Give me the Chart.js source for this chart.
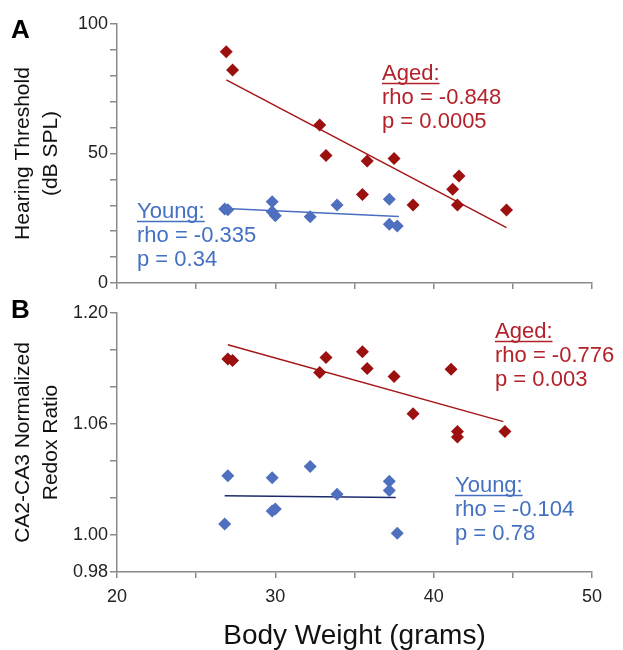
<!DOCTYPE html>
<html>
<head>
<meta charset="utf-8">
<script src="https://cdn.jsdelivr.net/npm/chart.js@4.4.1/dist/chart.umd.min.js"></script>
<style>
  html, body { margin: 0; padding: 0; background: #fff; }
  #wrap { position: relative; width: 623px; height: 650px; }
  #chartA { position: absolute; left: 0; top: 0; }
  #chartB { position: absolute; left: 0; top: 300px; }
</style>
</head>
<body>
<div id="wrap">
  <canvas id="chartA" width="623" height="300"></canvas>
  <canvas id="chartB" width="623" height="350"></canvas>
</div>
<script>
// ---- data ----
// Panel A: hearing threshold (dB SPL) vs body weight (g)
const agedWeightA = [26.9, 27.3, 32.8, 33.2, 35.8, 37.5, 35.5, 38.7, 41.2, 41.6, 41.5, 44.6];
const agedThreshold = [89.3, 82.2, 61.0, 49.2, 47.1, 48.1, 34.2, 30.1, 36.2, 41.3, 30.1, 28.2];
const youngWeightA = [26.8, 27.0, 29.8, 29.8, 30.0, 32.2, 33.9, 37.2, 37.2, 37.7];
const youngThreshold = [28.6, 28.3, 31.4, 27.5, 26.0, 25.6, 30.1, 32.3, 22.7, 22.0];
const agedTrendAx = [26.9, 44.6];
const agedTrendAy = [78.4, 21.4];
const youngTrendAx = [26.9, 37.8];
const youngTrendAy = [28.8, 25.7];

// Panel B: CA2-CA3 normalized redox ratio vs body weight (g)
const agedWeightB = [27.0, 27.3, 32.8, 33.2, 35.5, 35.8, 37.5, 38.7, 41.1, 41.5, 41.5, 44.5];
const agedRedox = [1.142, 1.140, 1.125, 1.144, 1.151, 1.130, 1.120, 1.073, 1.129, 1.056, 1.053, 1.056];
const youngWeightB = [27.0, 26.8, 29.8, 29.8, 30.0, 32.2, 33.9, 37.2, 37.2, 37.7];
const youngRedox = [1.032, 1.006, 1.031, 1.013, 1.014, 1.037, 1.022, 1.029, 1.024, 1.001];
const agedTrendBx = [27.0, 44.4];
const agedTrendBy = [1.160, 1.063];
const youngTrendBx = [26.8, 37.6];
const youngTrendBy = [1.0212, 1.0203];

// tick marks of the redox axis (evenly spaced on the figure) and which ones are labelled
const redoxTicks = [0.98, 1.00, 1.02, 1.04, 1.06, 1.1067, 1.1533, 1.20];
const redoxLabels = ['0.98', '1.00', '1.06', '1.20'];
const weightLabels = [20, 30, 40, 50];

const FONT = '"Liberation Sans", Arial, sans-serif';
const AXIS = '#8a8a8a';
const AGED_PT = '#9c1010';
const AGED_TXT = '#b3222a';
const YOUNG_PT = '#4f6fbf';
const YOUNG_TXT = '#4470c2';

Chart.defaults.font.family = FONT;
Chart.defaults.color = '#222';

const pairs = (xs, ys) => xs.map((x, i) => ({ x: x, y: ys[i] }));

// the redox axis is piecewise linear: equal spacing between successive tick values
class RedoxScale extends Chart.LinearScale {
  static id = 'redox';
  buildTicks() {
    return redoxTicks.map(v => ({ value: v }));
  }
  toStep(v) {
    const t = redoxTicks;
    if (v <= t[1]) return (v - t[0]) / (t[1] - t[0]);
    for (let i = 1; i < t.length; i++) {
      if (v <= t[i] || i === t.length - 1) return i - 1 + (v - t[i - 1]) / (t[i] - t[i - 1]);
    }
  }
  getPixelForValue(v) {
    if (v === null || v === undefined || isNaN(v)) return NaN;
    return this.getPixelForDecimal(this.toStep(v) / (redoxTicks.length - 1));
  }
  getValueForPixel(p) {
    const t = redoxTicks;
    const s = this.getDecimalForPixel(p) * (t.length - 1);
    const i = Math.max(0, Math.min(t.length - 2, Math.floor(s)));
    return t[i] + (s - i) * (t[i + 1] - t[i]);
  }
}
Chart.register(RedoxScale);

function makeNotes(letter, letterY, notes) {
  return {
    id: 'notes',
    afterDraw(chart) {
      const ctx = chart.ctx;
      ctx.save();
      ctx.fillStyle = '#000';
      ctx.font = 'bold 26px ' + FONT;
      ctx.textBaseline = 'alphabetic';
      ctx.fillText(letter, 11, letterY);
      notes.forEach(n => {
        ctx.font = '22px ' + FONT;
        ctx.fillStyle = n.color;
        n.lines.forEach((t, i) => ctx.fillText(t, n.x, n.y + i * 24));
        const w = ctx.measureText(n.lines[0]).width;
        ctx.strokeStyle = n.color;
        ctx.lineWidth = 1.5;
        ctx.beginPath();
        ctx.moveTo(n.x, n.y + 3.5);
        ctx.lineTo(n.x + w, n.y + 3.5);
        ctx.stroke();
      });
      ctx.restore();
    }
  };
}

function pointSet(xs, ys, color) {
  return {
    data: pairs(xs, ys),
    backgroundColor: color,
    borderColor: color,
    borderWidth: 0,
    pointStyle: 'rectRot',
    pointRadius: 6.5,
    pointHoverRadius: 6.5
  };
}

function trendSet(xs, ys, color) {
  return {
    type: 'line',
    data: pairs(xs, ys),
    borderColor: color,
    borderWidth: 1.5,
    pointRadius: 0,
    fill: false,
    order: 1
  };
}

function xAxis(showLabels, height) {
  return {
    type: 'linear',
    min: 20,
    max: 50,
    ticks: {
      display: showLabels,
      stepSize: 5,
      autoSkip: false,
      maxRotation: 0,
      padding: 8,
      font: { size: 18 },
      callback: v => (weightLabels.includes(v) ? String(v) : '')
    },
    grid: { drawOnChartArea: false, tickLength: 6, color: AXIS, lineWidth: 1.5 },
    border: { color: AXIS, width: 1.5 },
    title: showLabels ? {
      display: true,
      text: 'Body Weight (grams)',
      color: '#111',
      font: { size: 28, lineHeight: 1 },
      padding: { top: 0, bottom: 0 }
    } : { display: false },
    afterFit: s => { s.height = height; }
  };
}

function yTitle(lines) {
  return {
    display: true,
    text: lines,
    color: '#111',
    font: { size: 21, lineHeight: 1.3 },
    padding: { top: 10, bottom: 0 }
  };
}

new Chart(document.getElementById('chartA'), {
  type: 'scatter',
  data: {
    datasets: [
      trendSet(agedTrendAx, agedTrendAy, '#a51616'),
      trendSet(youngTrendAx, youngTrendAy, '#4a6fc2'),
      pointSet(agedWeightA, agedThreshold, AGED_PT),
      pointSet(youngWeightA, youngThreshold, YOUNG_PT)
    ]
  },
  options: {
    responsive: false,
    animation: false,
    layout: { padding: { top: 24, right: 31, left: 0, bottom: 0 } },
    plugins: { legend: { display: false }, tooltip: { enabled: false } },
    scales: {
      x: xAxis(false, 17),
      y: {
        min: 0,
        max: 100,
        ticks: {
          stepSize: 10,
          autoSkip: false,
          padding: 2,
          font: { size: 18 },
          callback: v => (v % 50 === 0 ? String(v) : '')
        },
        grid: { drawOnChartArea: false, tickLength: 7, color: AXIS, lineWidth: 1.5 },
        border: { color: AXIS, width: 1.5 },
        title: yTitle(['Hearing Threshold', '(dB SPL)']),
        afterFit: s => { s.width = 117; }
      }
    }
  },
  plugins: [makeNotes('A', 38, [
    { x: 382, y: 80, color: AGED_TXT, lines: ['Aged:', 'rho = -0.848', 'p = 0.0005'] },
    { x: 137, y: 218, color: YOUNG_TXT, lines: ['Young:', 'rho = -0.335', 'p = 0.34'] }
  ])]
});

new Chart(document.getElementById('chartB'), {
  type: 'scatter',
  data: {
    datasets: [
      trendSet(agedTrendBx, agedTrendBy, '#a51616'),
      trendSet(youngTrendBx, youngTrendBy, '#1c2b6b'),
      pointSet(agedWeightB, agedRedox, AGED_PT),
      pointSet(youngWeightB, youngRedox, YOUNG_PT)
    ]
  },
  options: {
    responsive: false,
    animation: false,
    layout: { padding: { top: 13, right: 31, left: 0, bottom: 0 } },
    plugins: { legend: { display: false }, tooltip: { enabled: false } },
    scales: {
      x: xAxis(true, 78),
      y: {
        type: 'redox',
        min: 0.98,
        max: 1.20,
        ticks: {
          autoSkip: false,
          padding: 2,
          font: { size: 18 },
          callback: v => {
            const s = v.toFixed(2);
            return redoxLabels.includes(s) ? s : '';
          }
        },
        grid: { drawOnChartArea: false, tickLength: 7, color: AXIS, lineWidth: 1.5 },
        border: { color: AXIS, width: 1.5 },
        title: yTitle(['CA2-CA3 Normalized', 'Redox Ratio']),
        afterFit: s => { s.width = 117; }
      }
    }
  },
  plugins: [makeNotes('B', 18, [
    { x: 495, y: 38, color: AGED_TXT, lines: ['Aged:', 'rho = -0.776', 'p = 0.003'] },
    { x: 455, y: 192, color: YOUNG_TXT, lines: ['Young:', 'rho = -0.104', 'p = 0.78'] }
  ])]
});
</script>
</body>
</html>
